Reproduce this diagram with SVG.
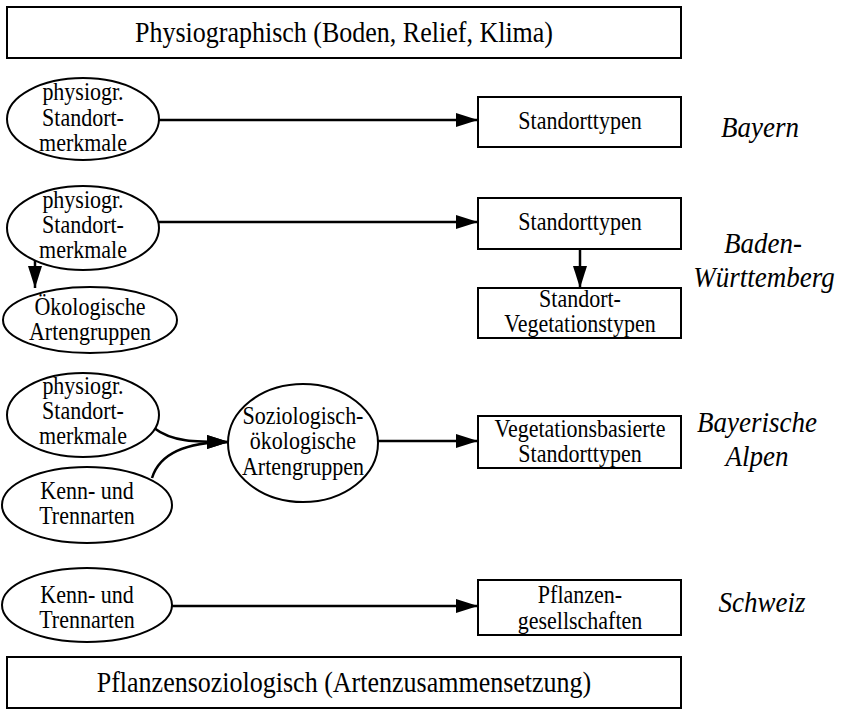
<svg xmlns="http://www.w3.org/2000/svg" width="843" height="710" viewBox="0 0 843 710">
<defs>
<style>
.b{fill:#fff;stroke:#000;stroke-width:2}
text{transform-box:fill-box;transform-origin:50% 80%;transform:scaleY(1.1)}
.t{font-family:"Liberation Serif","Times New Roman",serif;font-size:22px;text-anchor:middle;fill:#000}
.big{font-size:26px}
.it{font-family:"Liberation Serif","Times New Roman",serif;font-size:27px;font-style:italic;text-anchor:middle;fill:#000}
.c{fill:none;stroke:#000;stroke-width:2.5}
</style>
<marker id="ah" markerUnits="userSpaceOnUse" markerWidth="24" markerHeight="16" refX="22" refY="7" orient="auto">
<path d="M0,0 L22,7 L0,14 z" fill="#000"/>
</marker>
</defs>
<rect width="843" height="710" fill="#fff"/>

<g id="top">
<rect class="b" x="7" y="7" width="674" height="51"/>
<text class="t big" x="344" y="42">Physiographisch (Boden, Relief, Klima)</text>
</g>

<g id="connectors">
<path class="c" d="M157,120 H478" marker-end="url(#ah)"/>
<path class="c" d="M158,222 H478" marker-end="url(#ah)"/>
<path class="c" d="M580,249 V288" marker-end="url(#ah)"/>
<path class="c" d="M35,261 V288" marker-end="url(#ah)"/>
<path class="c" d="M154,428 C172,442 195,442 229,442" marker-end="url(#ah)"/>
<path class="c" d="M152,478 C160,452 190,442 229,442" marker-end="url(#ah)"/>
<path class="c" d="M378,441 H478" marker-end="url(#ah)"/>
<path class="c" d="M172,606 H478" marker-end="url(#ah)"/>
</g>

<g id="phys1">
<ellipse class="b" cx="83" cy="119" rx="76" ry="41"/>
<text class="t" x="83" y="100">physiogr.</text>
<text class="t" x="83" y="126">Standort-</text>
<text class="t" x="83" y="151">merkmale</text>
</g>
<g id="stt1">
<rect class="b" x="478" y="97" width="203" height="50"/>
<text class="t" x="580" y="129">Standorttypen</text>
</g>
<text class="it" x="760" y="137">Bayern</text>

<g id="phys2">
<ellipse class="b" cx="83" cy="228" rx="76" ry="42"/>
<text class="t" x="83" y="208">physiogr.</text>
<text class="t" x="83" y="233">Standort-</text>
<text class="t" x="83" y="258">merkmale</text>
</g>
<g id="oeko">
<ellipse class="b" cx="90" cy="320" rx="87" ry="33"/>
<text class="t" x="90" y="315">Ökologische</text>
<text class="t" x="90" y="340">Artengruppen</text>
</g>
<g id="stt2">
<rect class="b" x="478" y="198" width="203" height="51"/>
<text class="t" x="580" y="230">Standorttypen</text>
</g>
<g id="stveg">
<rect class="b" x="478" y="288" width="203" height="50"/>
<text class="t" x="580" y="307">Standort-</text>
<text class="t" x="580" y="332">Vegetationstypen</text>
</g>
<text class="it" x="763" y="253">Baden-</text>
<text class="it" x="764" y="287">Württemberg</text>

<g id="phys3">
<ellipse class="b" cx="83" cy="415" rx="76" ry="42"/>
<text class="t" x="83" y="394">physiogr.</text>
<text class="t" x="83" y="419">Standort-</text>
<text class="t" x="83" y="444">merkmale</text>
</g>
<g id="kenn1">
<ellipse class="b" cx="87" cy="505" rx="85" ry="38"/>
<text class="t" x="87" y="499">Kenn- und</text>
<text class="t" x="87" y="524">Trennarten</text>
</g>
<g id="sozio">
<ellipse class="b" cx="303" cy="443" rx="75" ry="59"/>
<text class="t" x="303" y="424">Soziologisch-</text>
<text class="t" x="303" y="449">ökologische</text>
<text class="t" x="303" y="475">Artengruppen</text>
</g>
<g id="vegbas">
<rect class="b" x="478" y="416" width="203" height="52"/>
<text class="t" x="580" y="437">Vegetationsbasierte</text>
<text class="t" x="580" y="462">Standorttypen</text>
</g>
<text class="it" x="757" y="432">Bayerische</text>
<text class="it" x="757" y="466">Alpen</text>

<g id="kenn2">
<ellipse class="b" cx="87" cy="605" rx="85" ry="37"/>
<text class="t" x="87" y="603">Kenn- und</text>
<text class="t" x="87" y="628">Trennarten</text>
</g>
<g id="pflges">
<rect class="b" x="478" y="580" width="203" height="55"/>
<text class="t" x="580" y="603">Pflanzen-</text>
<text class="t" x="580" y="629">gesellschaften</text>
</g>
<text class="it" x="762" y="612">Schweiz</text>

<g id="bottom">
<rect class="b" x="7" y="657" width="674" height="51"/>
<text class="t big" x="344" y="692">Pflanzensoziologisch (Artenzusammensetzung)</text>
</g>
</svg>
